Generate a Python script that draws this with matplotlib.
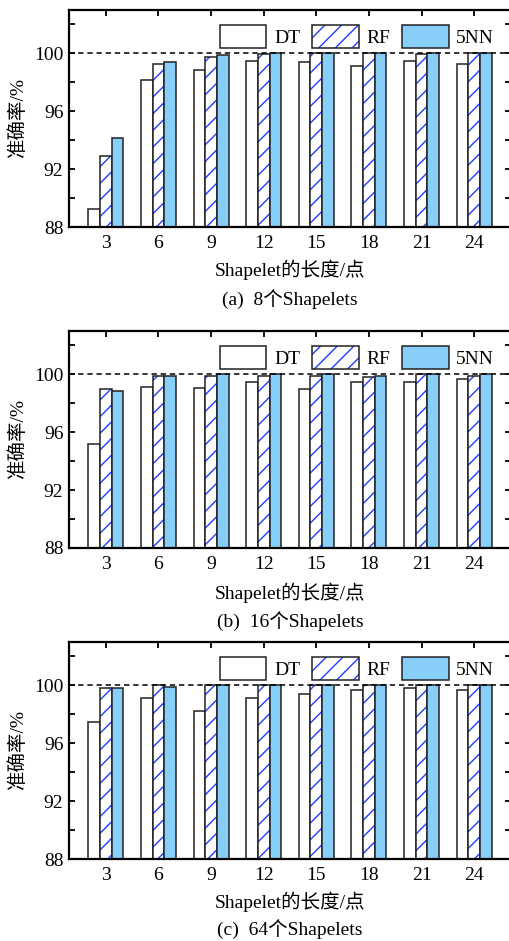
import matplotlib
matplotlib.use("Agg")
import matplotlib.pyplot as plt
import numpy as np
from matplotlib.patches import Patch

plt.rcParams["font.family"] = ["Liberation Serif", "Noto Sans CJK SC"]
plt.rcParams["hatch.linewidth"] = 1.0

lengths = [3, 6, 9, 12, 15, 18, 21, 24]
series = ["DT", "RF", "5NN"]

# accuracy (%) for 8 / 16 / 64 shapelets
dt_8 = [89.27, 98.13, 98.82, 99.49, 99.38, 99.15, 99.49, 99.30]
rf_8 = [92.94, 99.30, 99.77, 99.93, 100.0, 100.0, 99.93, 100.0]
knn_8 = [94.16, 99.38, 99.88, 100.0, 100.0, 100.0, 100.0, 100.0]

dt_16 = [95.20, 99.15, 99.06, 99.47, 98.97, 99.47, 99.47, 99.68]
rf_16 = [98.97, 99.86, 99.86, 99.86, 99.86, 99.79, 100.0, 99.86]
knn_16 = [98.85, 99.86, 100.0, 100.0, 100.0, 99.86, 100.0, 100.0]

dt_64 = [97.50, 99.15, 98.23, 99.15, 99.38, 99.70, 99.82, 99.70]
rf_64 = [99.82, 100.0, 100.0, 100.0, 100.0, 100.0, 100.0, 100.0]
knn_64 = [99.82, 99.88, 100.0, 100.0, 100.0, 100.0, 100.0, 100.0]

captions = ["(a)  8个Shapelets", "(b)  16个Shapelets", "(c)  64个Shapelets"]
xlabel = "Shapelet的长度/点"
ylabel = "准确率/%"

W, H = 509, 941
FS = 14
HATCH_BLUE = "#1f3cff"
FILL_BLUE = "#87cefa"
EDGE = "#222222"


def draw_panel(ax, dt, rf, knn):
    x = np.arange(len(lengths))
    w = 0.222
    ax.bar(x - w, dt, w, color="white", edgecolor=EDGE, linewidth=1.1, zorder=2)
    ax.bar(x, rf, w, color="white", edgecolor=HATCH_BLUE, linewidth=0, hatch="//", zorder=2)
    ax.bar(x, rf, w, color="none", edgecolor=EDGE, linewidth=1.1, zorder=2)
    ax.bar(x + w, knn, w, color=FILL_BLUE, edgecolor=EDGE, linewidth=1.1, zorder=2)
    ax.axhline(100, color="black", linestyle=(0, (3.5, 2.5)), linewidth=1.1, zorder=3)

    ax.set_xlim(-0.7, 7.7)
    ax.set_ylim(88, 103)
    ax.set_xticks(x)
    ax.set_xticklabels([str(v) for v in lengths], fontsize=FS)
    ax.set_yticks([88, 92, 96, 100])
    ax.set_yticks([90, 94, 98, 102], minor=True)
    ax.tick_params(axis="y", labelsize=FS, pad=4)
    ax.tick_params(axis="x", pad=6)
    ax.tick_params(which="both", direction="in", length=4, width=1.3,
                   top=True, right=True, bottom=True, left=True)
    ax.tick_params(axis="x", which="minor", bottom=False, top=False)
    for s in ax.spines.values():
        s.set_linewidth(1.6)

    h_dt = Patch(facecolor="white", edgecolor=EDGE, linewidth=1.1)
    h_rf_fill = Patch(facecolor="white", edgecolor=HATCH_BLUE, linewidth=0, hatch="//")
    h_rf_edge = Patch(facecolor="none", edgecolor=EDGE, linewidth=1.1)
    h_knn = Patch(facecolor=FILL_BLUE, edgecolor=EDGE, linewidth=1.1)
    ax.legend([h_dt, (h_rf_fill, h_rf_edge), h_knn], series, ncol=3,
              loc="upper right", bbox_to_anchor=(0.995, 1.0), frameon=False,
              fontsize=FS, handlelength=2.4, handleheight=1.45,
              handletextpad=0.4, columnspacing=0.6, borderpad=0.25)


fig = plt.figure(figsize=(W / 100, H / 100), dpi=100)

panels = [(dt_8, rf_8, knn_8), (dt_16, rf_16, knn_16), (dt_64, rf_64, knn_64)]
tops = [10, 331, 642]
xlabel_y = [270, 593, 902]
caption_y = [299, 621, 929]
left, right, height = 69, 511, 217

for i, (dt, rf, knn) in enumerate(panels):
    top = tops[i]
    ax = fig.add_axes([left / W, 1 - (top + height) / H, (right - left) / W, height / H])
    draw_panel(ax, dt, rf, knn)
    fig.text(18 / W, 1 - (top + 108) / H, ylabel, rotation=90, fontsize=FS,
             ha="center", va="center")
    fig.text(290 / W, 1 - xlabel_y[i] / H, xlabel, fontsize=FS, ha="center", va="center")
    fig.text(290 / W, 1 - caption_y[i] / H, captions[i], fontsize=FS, ha="center", va="center")

fig.savefig("out.png", dpi=100)
